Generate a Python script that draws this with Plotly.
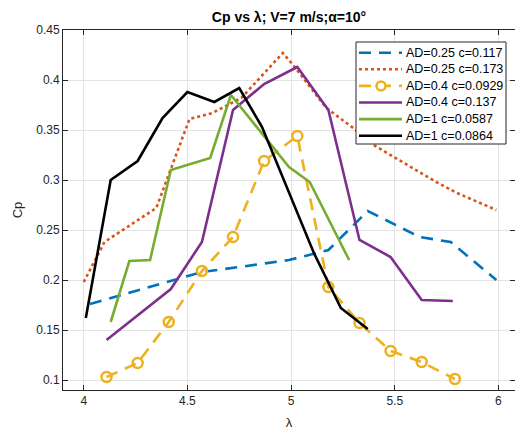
import plotly.graph_objects as go

# ---- data ----
lam_b = [4.03, 4.30, 4.57, 4.75, 4.99, 5.18, 5.37, 5.62, 5.77, 5.99]
cp_b = [0.176, 0.192, 0.208, 0.213, 0.220, 0.230, 0.269, 0.243, 0.238, 0.200]

lam_o = [4.00, 4.10, 4.35, 4.51, 4.62, 4.76, 4.96, 5.01, 5.17, 5.30, 5.39, 5.51, 5.70, 5.80, 5.99]
cp_o = [0.198, 0.238, 0.272, 0.361, 0.367, 0.382, 0.427, 0.415, 0.372, 0.352, 0.336, 0.321, 0.298, 0.287, 0.270]

lam_y = [4.11, 4.26, 4.41, 4.57, 4.72, 4.87, 5.03, 5.18, 5.33, 5.48, 5.63, 5.79]
cp_y = [0.103, 0.117, 0.158, 0.209, 0.243, 0.319, 0.344, 0.193, 0.157, 0.129, 0.118, 0.101]

lam_p = [4.11, 4.26, 4.42, 4.57, 4.72, 4.87, 5.03, 5.18, 5.33, 5.48, 5.63, 5.78]
cp_p = [0.140, 0.165, 0.191, 0.238, 0.370, 0.396, 0.413, 0.370, 0.240, 0.223, 0.180, 0.179]

lam_g = [4.13, 4.22, 4.32, 4.42, 4.61, 4.71, 4.99, 5.09, 5.28]
cp_g = [0.158, 0.219, 0.220, 0.310, 0.322, 0.385, 0.313, 0.298, 0.220]

lam_k = [4.01, 4.13, 4.26, 4.38, 4.50, 4.63, 4.75, 4.86, 5.11, 5.24, 5.37]
cp_k = [0.162, 0.300, 0.319, 0.362, 0.388, 0.378, 0.392, 0.353, 0.227, 0.172, 0.151]

names = ["AD=0.25 c=0.117", "AD=0.25 c=0.173", "AD=0.4 c=0.0929",
         "AD=0.4 c=0.137", "AD=1 c=0.0587", "AD=1 c=0.0864"]

x_ticks = [4, 4.5, 5, 5.5, 6]
y_ticks = [0.1, 0.15, 0.2, 0.25, 0.3, 0.35, 0.4, 0.45]

FONT = "Liberation Sans, Arial, Helvetica, sans-serif"
AX = "#262626"
LW = 2.6

W, H = 515, 433
ML, MR, MT, MB = 63, 0, 30, 43
PW, PH = W - ML - MR, H - MT - MB

colors = ["#0072BD", "#D95319", "#EDB120", "#7E2F8E", "#77AC30", "#000000"]
dashes = ["12px,8px", "3px,3px", "12px,8px", "solid", "solid", "solid"]
series = [(lam_b, cp_b), (lam_o, cp_o), (lam_y, cp_y),
          (lam_p, cp_p), (lam_g, cp_g), (lam_k, cp_k)]

fig = go.Figure()
for i, (xs, ys) in enumerate(series):
    kw = {}
    mode = "lines"
    if i == 2:
        mode = "lines+markers"
        kw["marker"] = dict(symbol="circle-open", size=10, color=colors[i],
                            line=dict(width=2.5, color=colors[i]))
    fig.add_trace(go.Scatter(x=xs, y=ys, mode=mode, name=names[i],
                             line=dict(color=colors[i], width=LW, dash=dashes[i]),
                             showlegend=False, **kw))


def px_x(px):
    return (px - ML) / PW


def px_y(py):
    return (H - MB - py) / PH


# ---- legend drawn as a MATLAB-style box ----
shapes = [dict(type="rect", xref="paper", yref="paper", layer="above",
               x0=px_x(356), x1=px_x(506), y0=px_y(144), y1=px_y(42),
               fillcolor="white", line=dict(color=AX, width=1))]
annotations = []
row0, step = 52.7, 16.6
for i in range(len(names)):
    yc = px_y(row0 + i * step)
    shapes.append(dict(type="line", xref="paper", yref="paper", layer="above",
                       x0=px_x(359), x1=px_x(402), y0=yc, y1=yc,
                       line=dict(color=colors[i], width=LW, dash=dashes[i])))
    if i == 2:
        shapes.append(dict(type="circle", xref="paper", yref="paper", layer="above",
                           xsizemode="pixel", ysizemode="pixel",
                           xanchor=px_x(381), yanchor=yc,
                           x0=-4.5, x1=4.5, y0=-4.5, y1=4.5,
                           fillcolor="white", line=dict(color=colors[i], width=2.5)))
    annotations.append(dict(xref="paper", yref="paper", x=px_x(404), y=yc,
                            xanchor="left", yanchor="middle", showarrow=False,
                            text=names[i],
                            font=dict(family=FONT, size=12.5, color="#000000")))

axis_common = dict(
    showgrid=True, gridcolor="#e3e3e3", gridwidth=1,
    showline=True, linecolor=AX, linewidth=1, mirror="allticks",
    ticks="inside", ticklen=5, tickcolor=AX,
    tickfont=dict(family=FONT, size=12, color=AX),
    zeroline=False, automargin=False,
)

fig.update_layout(
    width=W, height=H,
    margin=dict(l=ML, r=MR, t=MT, b=MB),
    paper_bgcolor="white", plot_bgcolor="white",
    font=dict(family=FONT, color=AX),
    title=dict(text="<b>Cp vs λ; V=7 m/s;α=10°</b>", x=0.5, xref="paper",
               y=1 - 17 / H, yref="container", yanchor="middle",
               font=dict(family=FONT, size=14, color="#000000")),
    xaxis=dict(range=[3.9, 6.08], tickvals=x_ticks,
               title=dict(text="λ", font=dict(family=FONT, size=13, color=AX), standoff=10),
               **axis_common),
    yaxis=dict(range=[0.09, 0.45], tickvals=y_ticks,
               title=dict(text="Cp", font=dict(family=FONT, size=13, color=AX), standoff=10),
               **axis_common),
    shapes=shapes,
    annotations=annotations,
    showlegend=False,
)

fig.write_html("out.html", config={"displayModeBar": False},
               post_script="document.body.style.margin='0';")
